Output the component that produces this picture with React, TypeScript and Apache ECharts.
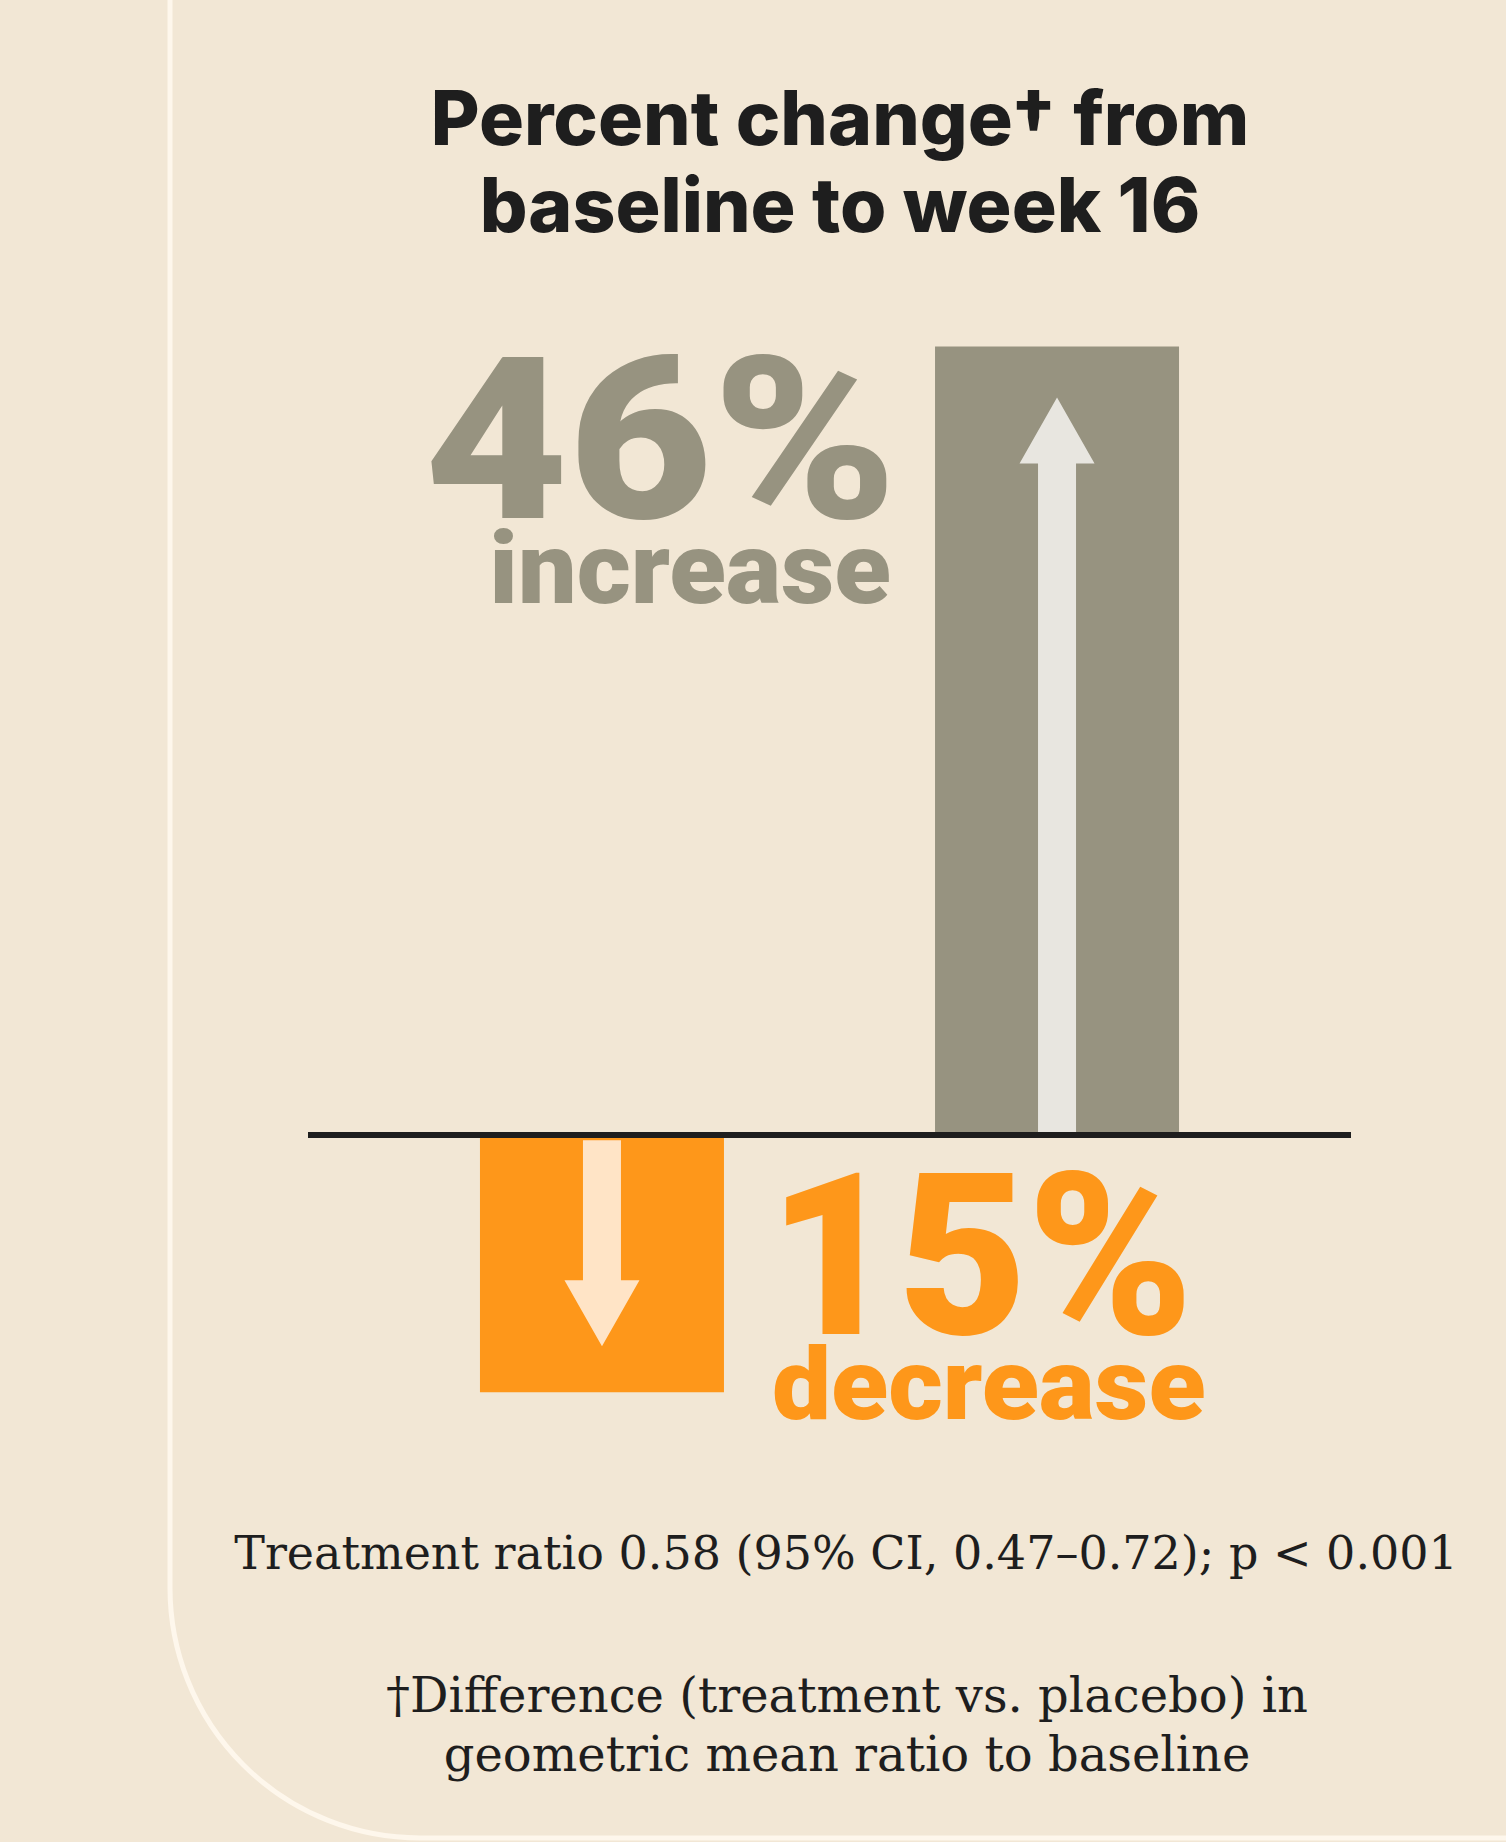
import React, { useEffect, useRef } from "react";
import * as echarts from "echarts";

// ---- data ----
const categories = ["Decrease", "Increase"];
const values = [-15, 46];
const words = ["decrease", "increase"];
const titleLines = ["Percent change\u2020 from", "baseline to week 16"];
const statLine = "Treatment ratio 0.58 (95% CI, 0.47\u20130.72); p < 0.001";
const footnoteLines = ["\u2020Difference (treatment vs. placebo) in", "geometric mean ratio to baseline"];

const BG = "#F2E7D5";
const GRAY = "#979380";
const GRAY_ARROW = "#E8E6E0";
const ORANGE = "#FE971A";
const ORANGE_ARROW = "#FFE4C6";
const INK = "#1E1E1E";

export default function App() {
  const ref = useRef<HTMLDivElement>(null);
  useEffect(() => {
    if (!ref.current) return;
    const chart = echarts.init(ref.current, undefined, { renderer: "svg" });
    const data = values.map((v, i) => [i, v]);
    const colors = values.map((v) => (v < 0 ? ORANGE : GRAY));
    const arrowColors = values.map((v) => (v < 0 ? ORANGE_ARROW : GRAY_ARROW));

    const bigText = (text: string, x: number, y: number, fill: string, align: string, sx: number) => ({
      type: "text",
      x, y, scaleX: sx,
      style: {
        text, x: 0, y: 0, fill,
        fontFamily: "Roboto", fontWeight: 900, fontSize: 226, lineHeight: 160,
        align, verticalAlign: "middle", textAlign: align, textVerticalAlign: "middle",
      },
    });
    const wordText = (text: string, x: number, y: number, fill: string, align: string, sx: number) => ({
      type: "text",
      x, y, scaleX: sx,
      style: {
        text, x: 0, y: 0, fill,
        fontFamily: "Roboto", fontWeight: 900, fontSize: 100, lineHeight: 76,
        align, verticalAlign: "middle", textAlign: align, textVerticalAlign: "middle",
      },
    });

    const option: any = {
      animation: false,
      backgroundColor: BG,
      grid: { left: 308, right: 155, top: 278, bottom: 364, containLabel: false },
      xAxis: {
        type: "value",
        min: -0.646,
        max: 1.646,
        z: 10,
        axisLine: { show: true, onZero: true, lineStyle: { color: INK, width: 6, cap: "butt" } },
        axisTick: { show: false },
        axisLabel: { show: false },
        splitLine: { show: false },
      },
      yAxis: {
        type: "value",
        min: -20,
        max: 50,
        show: false,
        splitLine: { show: false },
      },
      series: [
        {
          type: "bar",
          name: "Percent change",
          data: data.map((d, i) => ({ value: d, name: categories[i], itemStyle: { color: colors[i] } })),
          barWidth: 244,
          z: 2,
        },
        {
          type: "custom",
          z: 5,
          data: data,
          encode: { x: 0, y: 1 },
          renderItem: (params: any, api: any) => {
            const i = params.dataIndex;
            const x = api.value(0);
            const v = api.value(1);
            const p0 = api.coord([x, 0]);
            const p1 = api.coord([x, v]);
            const cx = p0[0];
            const headH = 66;
            const headHW = 37.5;
            const shaftHW = 19;
            const barHW = 122;
            const children: any[] = [];
            const txtBig = Math.abs(v) + "%";
            if (v >= 0) {
              const tip = p1[1] + 51;
              const hb = tip + headH;
              const bottom = p0[1] - 2;
              children.push({
                type: "polygon",
                shape: {
                  points: [
                    [cx, tip],
                    [cx + headHW, hb],
                    [cx + shaftHW, hb],
                    [cx + shaftHW, bottom],
                    [cx - shaftHW, bottom],
                    [cx - shaftHW, hb],
                    [cx - headHW, hb],
                  ],
                },
                style: { fill: arrowColors[i] },
              });
              const tx = cx - barHW - 38;
              children.push(bigText(txtBig, tx, p1[1] + 94, colors[i], "right", 1.1));
              children.push(wordText(words[i], cx - barHW - 44, p1[1] + 222, colors[i], "right", 1.04));
            } else {
              const tip = p1[1] - 46;
              const hb = tip - headH;
              const top = p0[1] + 5;
              children.push({
                type: "polygon",
                shape: {
                  points: [
                    [cx, tip],
                    [cx + headHW, hb],
                    [cx + shaftHW, hb],
                    [cx + shaftHW, top],
                    [cx - shaftHW, top],
                    [cx - shaftHW, hb],
                    [cx - headHW, hb],
                  ],
                },
                style: { fill: arrowColors[i] },
              });
              const tx = cx + barHW + 44;
              children.push(bigText(txtBig, tx, p0[1] + 121, colors[i], "left", 0.99));
              children.push(wordText(words[i], cx + barHW + 48, p0[1] + 250, colors[i], "left", 1.05));
            }
            return { type: "group", children };
          },
        },
      ],
      graphic: [
        {
          type: "rect",
          z: 0,
          silent: true,
          shape: { x: 170, y: -50, width: 1500, height: 1888, r: [0, 0, 0, 250] },
          style: { fill: "none", stroke: "#FEF7EC", lineWidth: 5 },
        },
        ...titleLines.map((t, k) => ({
          type: "text",
          x: 840,
          y: 117 + k * 87,
          style: {
            text: t, fill: INK, fontFamily: "Inter", fontWeight: 800, fontSize: 75, lineHeight: 80,
            align: "center", verticalAlign: "middle", textAlign: "center", textVerticalAlign: "middle",
          },
        })),
        {
          type: "text",
          x: 846,
          y: 1553,
          style: {
            text: statLine, fill: INK, fontFamily: "DejaVu Serif", fontSize: 46,
            align: "center", verticalAlign: "middle", textAlign: "center", textVerticalAlign: "middle",
          },
        },
        ...footnoteLines.map((t, k) => ({
          type: "text",
          x: 847,
          y: 1695 + k * 59,
          style: {
            text: t, fill: INK, fontFamily: "DejaVu Serif", fontSize: 48, lineHeight: 56,
            align: "center", verticalAlign: "middle", textAlign: "center", textVerticalAlign: "middle",
          },
        })),
      ],
    };
    chart.setOption(option);
    return () => chart.dispose();
  }, []);
  return (
    <div
      ref={ref}
      style={{ position: "fixed", left: 0, top: 0, width: 1506, height: 1842 }}
    />
  );
}
